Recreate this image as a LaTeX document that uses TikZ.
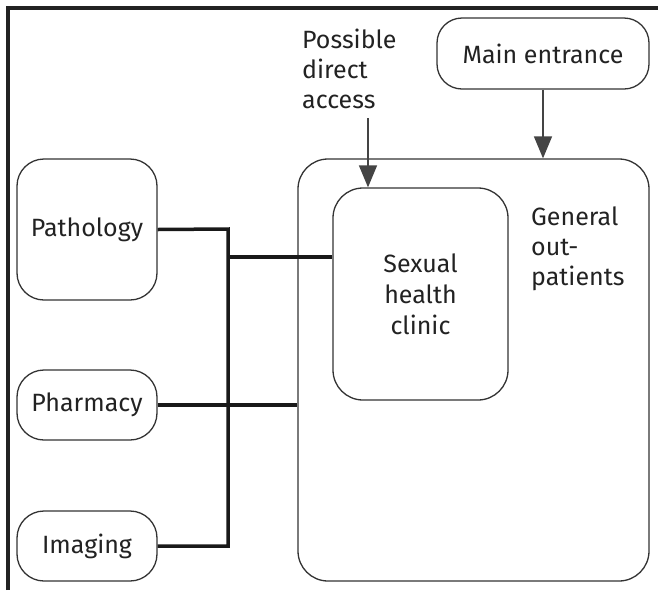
\documentclass[tikz,border=0pt]{standalone}
\usepackage{fontspec}
\setmainfont{Fira Sans}
\usetikzlibrary{arrows.meta}
\definecolor{ink}{HTML}{222222}
\definecolor{edge}{HTML}{333333}
\definecolor{arr}{HTML}{444444}
\begin{document}
\begin{tikzpicture}[x=1pt,y=-1pt,
  every node/.style={font=\fontsize{25}{31}\selectfont, text=ink},
  box/.style={draw=edge, line width=1.3pt, rounded corners=27pt, inner sep=0pt, align=center},
  bus/.style={draw=black!90, line width=3.5pt},
  arrowline/.style={draw=arr, line width=1.5pt, -{Triangle[length=22pt,width=18pt]}},
  lbl/.style={align=left, inner sep=0pt, anchor=base west}]
\useasboundingbox (0,0) rectangle (658,590);
\draw[line width=3.5pt, draw=ink] (8,590) -- (8,8) -- (658,8);
\node[box, minimum width=140pt, minimum height=141pt] (path) at (87,229.5) {Pathology};
\node[box, minimum width=140pt, minimum height=70pt] (pha) at (87,405) {Pharmacy};
\node[box, minimum width=140pt, minimum height=70pt] (img) at (87,546) {Imaging};
\node[box, minimum width=212pt, minimum height=71pt, rounded corners=25pt] (me) at (543,53.5) {Main entrance};
\node[box, minimum width=351pt, minimum height=422pt, rounded corners=30pt] (gop) at (473.5,370) {};
\node[box, minimum width=175pt, minimum height=212pt, rounded corners=30pt] (shc) at (420.5,294) {Sexual\\health\\clinic};
\node[lbl, font=\fontsize{25}{30}\selectfont] (gtxt) at (531,285) {General\\out-\\patients};
\node[lbl, font=\fontsize{25}{30}\selectfont] (pda) at (302,108) {Possible\\direct\\access};
\coordinate (b1) at (228,229);
\coordinate (b2) at (228,546);
\coordinate (c1) at (228,257);
\coordinate (pdastart) at (368,118);
\draw[bus] (path.east) -- (b1) -- (b2) -- (img.east);
\draw[bus] (c1) -- (shc.west |- c1);
\draw[bus] (pha.east) -- (pha.east -| gop.west);
\draw[arrowline] (me.south) -- (me.south |- gop.north);
\draw[arrowline] (pdastart) -- (pdastart |- shc.north);
\end{tikzpicture}
\end{document}
